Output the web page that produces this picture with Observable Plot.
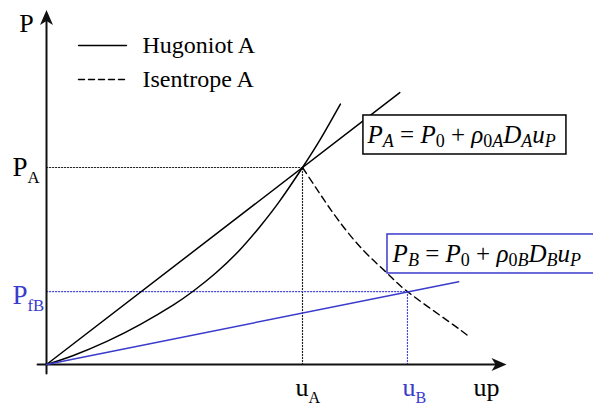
<!DOCTYPE html>
<html><head><meta charset="utf-8">
<script src="https://cdn.jsdelivr.net/npm/d3@7"></script>
<script src="https://cdn.jsdelivr.net/npm/@observablehq/plot@0.6"></script>
<style>
body{margin:0;background:#fff;font-family:"Liberation Serif",serif}
svg{display:block}
</style>
</head><body>
<script>
// ---- data (arbitrary units: u_A = 1, P_A = 1) ----
const uA = 1.0, PA = 1.0;
const uB = 1.41, PfB = 0.37;
const hugoniotU = [0, 0.105, 0.238, 0.367, 0.496, 0.574, 0.660, 0.754, 0.832, 0.910, 1.000, 1.070, 1.148];
const hugoniotP = [0, 0.046, 0.119, 0.204, 0.303, 0.373, 0.463, 0.580, 0.697, 0.828, 1.000, 1.144, 1.322];
const isentropeU = [1.000, 1.070, 1.141, 1.238, 1.332, 1.410, 1.566, 1.656];
const isentropeP = [1.000, 0.863, 0.731, 0.579, 0.462, 0.370, 0.223, 0.137];
const rayleighAU = [0, 1.38];
const rayleighAP = [0, 1.38];
const rayleighBU = [0, 1.61];
const rayleighBP = [0, 0.42];
const legendLabels = ["Hugoniot A", "Isentrope A"];
const axisLabels = ["P", "up"];
const pLabels = ["P_{A}", "P_{fB}"];
const uLabels = ["u_{A}", "u_{B}"];
const formulas = ["P_{A} = P_{0} + ρ_{0A}D_{A}u_{P}", "P_{B} = P_{0} + ρ_{0B}D_{B}u_{P}"];

const BLUE = "#3a3acc";
const FONT = "Liberation Serif";
const zip = (a, b) => a.map((v, i) => [v, b[i]]);

const arrowHead = {
  draw(ctx) {
    ctx.moveTo(0, 0);
    ctx.lineTo(6.5, 15);
    ctx.lineTo(0, 11);
    ctx.lineTo(-6.5, 15);
    ctx.closePath();
  }
};

const dotted = {strokeWidth: 1.2, strokeDasharray: "1.2,1.8"};

const chart = Plot.plot({
  width: 593,
  height: 407,
  x: {domain: [0, 1], range: [46, 302], axis: null},
  y: {domain: [0, 1], range: [364, 167], axis: null},
  style: {background: "white", color: "black", fontFamily: FONT},
  marks: [
    // dotted guides
    Plot.line([[0, PA], [uA, PA]], {stroke: "#222", ...dotted}),
    Plot.line([[uA, 0], [uA, PA]], {stroke: "#222", ...dotted}),
    Plot.line([[0, PfB], [uB, PfB]], {stroke: "#4848d8", ...dotted}),
    Plot.line([[uB, 0], [uB, PfB]], {stroke: "#4848d8", ...dotted}),
    // axes
    Plot.line([[-0.035, 0], [1.77, 0]], {stroke: "#111", strokeWidth: 2}),
    Plot.line([[0, -0.046], [0, 1.76]], {stroke: "#111", strokeWidth: 2}),
    Plot.dot([[1.797, 0]], {symbol: arrowHead, rotate: 90, fill: "#111", stroke: "none", r: 5}),
    Plot.dot([[0, 1.80]], {symbol: arrowHead, fill: "#111", stroke: "none", r: 5}),
    // curves
    Plot.line(zip(rayleighAU, rayleighAP), {stroke: "black", strokeWidth: 1.5}),
    Plot.line(zip(hugoniotU, hugoniotP), {stroke: "black", strokeWidth: 1.5, curve: "natural"}),
    Plot.line(zip(isentropeU, isentropeP), {stroke: "black", strokeWidth: 1.4, strokeDasharray: "7,4.5", curve: "natural"}),
    Plot.line(zip(rayleighBU, rayleighBP), {stroke: BLUE, strokeWidth: 1.5}),
    // legend
    Plot.line([[0.125, 1.619], [0.3125, 1.619]], {stroke: "black", strokeWidth: 1.4}),
    Plot.line([[0.125, 1.447], [0.3125, 1.447]], {stroke: "black", strokeWidth: 1.4, strokeDasharray: "6,4"}),
    Plot.text(legendLabels, {x: 0.375, y: (d, i) => [1.619, 1.447][i], text: d => d, textAnchor: "start", fontSize: 24, fontFamily: FONT}),
    // formula boxes
    Plot.rect([0], {x1: 1.238, x2: 2.031, y1: 1.066, y2: 1.264, fill: "white", stroke: "black", strokeWidth: 1.5}),
    Plot.rect([0], {x1: 1.332, x2: 2.2, y1: 0.462, y2: 0.660, fill: "white", stroke: BLUE, strokeWidth: 1.5}),
    Plot.text([formulas[0]], {x: 1.254, y: 1.165, text: d => d, textAnchor: "start", fontSize: 25, fontStyle: "italic", fontFamily: FONT}),
    Plot.text([formulas[1]], {x: 1.352, y: 0.561, text: d => d, textAnchor: "start", fontSize: 25, fontStyle: "italic", fontFamily: FONT}),
    // axis labels
    Plot.text([axisLabels[0]], {x: 0, y: 1.80, text: d => d, fontSize: 26, dx: -20, dy: 14, fontFamily: FONT}),
    Plot.text([axisLabels[1]], {x: 1.797, y: 0, text: d => d, fontSize: 26, dx: -20, dy: 23, fontFamily: FONT}),
    Plot.text([pLabels[0]], {x: 0, y: PA, text: d => d, textAnchor: "start", fontSize: 27, dx: -34, dy: 0, fontFamily: FONT}),
    Plot.text([pLabels[1]], {x: 0, y: PfB, text: d => d, textAnchor: "start", fontSize: 27, dx: -34, dy: 3.5, fill: BLUE, fontFamily: FONT}),
    Plot.text([uLabels[0]], {x: uA, y: 0, text: d => d, textAnchor: "start", fontSize: 26, dx: -7, dy: 23, fontFamily: FONT}),
    Plot.text([uLabels[1]], {x: uB, y: 0, text: d => d, textAnchor: "start", fontSize: 26, dx: -5, dy: 23, fill: BLUE, fontFamily: FONT})
  ]
});
document.body.appendChild(chart);

// turn "X_{sub}" markup into real subscript tspans
const NS = "http://www.w3.org/2000/svg";
d3.select(chart).selectAll("text").each(function() {
  const s = this.textContent;
  if (!s.includes("_{")) return;
  const fs = parseFloat(this.parentNode.getAttribute("font-size")) || 24;
  const italic = this.parentNode.getAttribute("font-style") === "italic";
  const subScale = italic ? 0.72 : 0.62;
  const drop = Math.round(fs * (italic ? 0.16 : 0.27));
  const parts = [];
  const re = /_\{([^}]*)\}|([^_]+)/g;
  let m;
  while ((m = re.exec(s))) parts.push(m[1] != null ? {t: m[1], sub: true} : {t: m[2], sub: false});
  this.textContent = "";
  let shifted = 0;
  for (const p of parts) {
    const runs = italic ? p.t.match(/[0-9=+\s]+|[^0-9=+\s]+/g) : [p.t];
    runs.forEach((r, i) => {
      const ts = document.createElementNS(NS, "tspan");
      ts.textContent = r;
      if (i === 0) {
        const target = p.sub ? drop : 0;
        if (target !== shifted) { ts.setAttribute("dy", target - shifted); shifted = target; }
      }
      if (p.sub) ts.setAttribute("font-size", fs * subScale);
      if (italic && /^[0-9=+\s]+$/.test(r)) ts.setAttribute("font-style", "normal");
      this.appendChild(ts);
    });
  }
});
</script>
</body></html>
